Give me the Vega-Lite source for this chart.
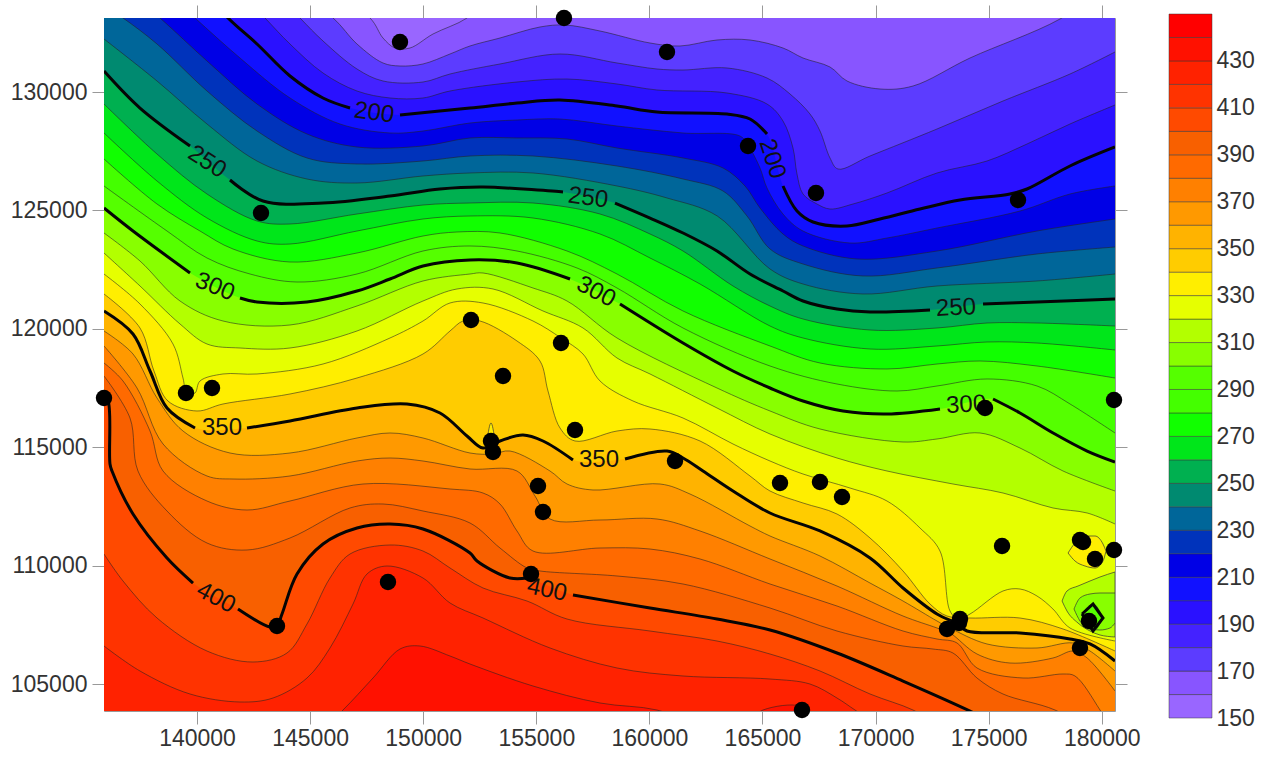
{"$schema":"https://vega.github.io/schema/vega-lite/v6.json","background":"white","padding":{"left":10,"top":4,"right":0,"bottom":0},"spacing":27,"config":{"view":{"stroke":null},"font":"Liberation Sans"},
"datasets":{
"contours":[
{"level":150,"x":135888,"y":133125},{"level":150,"x":180584,"y":133125},
{"level":160,"x":135888,"y":135110},{"level":160,"x":144553,"y":135110},{"level":160,"x":147648,"y":133125},{"level":160,"x":148222,"y":132280},{"level":160,"x":148753,"y":131858},{"level":160,"x":149416,"y":131858},{"level":160,"x":150433,"y":132449},{"level":160,"x":151935,"y":133125},{"level":160,"x":152953,"y":134054},{"level":160,"x":180584,"y":135110},
{"level":170,"x":135888,"y":136377},{"level":170,"x":143669,"y":134688},{"level":170,"x":146012,"y":133125},{"level":170,"x":147073,"y":132027},{"level":170,"x":148222,"y":131225},{"level":170,"x":148974,"y":131098},{"level":170,"x":149991,"y":131183},{"level":170,"x":151185,"y":131605},{"level":170,"x":152069,"y":131943},{"level":170,"x":153395,"y":132280},{"level":170,"x":155163,"y":132745},{"level":170,"x":156269,"y":132829},{"level":170,"x":157816,"y":132576},{"level":170,"x":160027,"y":132069},{"level":170,"x":161353,"y":131943},{"level":170,"x":162989,"y":132196},{"level":170,"x":164448,"y":132196},{"level":170,"x":165906,"y":131858},{"level":170,"x":166790,"y":131436},{"level":170,"x":167984,"y":131056},{"level":170,"x":168736,"y":130465},{"level":170,"x":170195,"y":130127},{"level":170,"x":171654,"y":130253},{"level":170,"x":174174,"y":131436},{"level":170,"x":178153,"y":133083},{"level":170,"x":180584,"y":134688},
{"level":180,"x":135888,"y":136377},{"level":180,"x":142784,"y":134899},{"level":180,"x":144553,"y":133125},{"level":180,"x":145570,"y":132154},{"level":180,"x":147073,"y":130971},{"level":180,"x":148222,"y":130465},{"level":180,"x":149991,"y":130422},{"level":180,"x":151185,"y":130760},{"level":180,"x":153395,"y":131183},{"level":180,"x":156048,"y":131605},{"level":180,"x":158568,"y":131225},{"level":180,"x":160336,"y":130971},{"level":180,"x":161486,"y":130929},{"level":180,"x":163431,"y":131014},{"level":180,"x":165199,"y":130591},{"level":180,"x":166216,"y":129916},{"level":180,"x":167100,"y":129071},{"level":180,"x":167542,"y":128353},{"level":180,"x":167984,"y":127213},{"level":180,"x":168338,"y":126748},{"level":180,"x":169753,"y":127297},{"level":180,"x":172715,"y":128437},{"level":180,"x":175633,"y":129620},{"level":180,"x":178595,"y":130760},{"level":180,"x":180584,"y":131689},
{"level":190,"x":135888,"y":136799},{"level":190,"x":141237,"y":134899},{"level":190,"x":143006,"y":133125},{"level":190,"x":144111,"y":132027},{"level":190,"x":145570,"y":130802},{"level":190,"x":147073,"y":130042},{"level":190,"x":148532,"y":129747},{"level":190,"x":149991,"y":129747},{"level":190,"x":151185,"y":130042},{"level":190,"x":154147,"y":130422},{"level":190,"x":156358,"y":130549},{"level":190,"x":158568,"y":130338},{"level":190,"x":160336,"y":130085},{"level":190,"x":163431,"y":129958},{"level":190,"x":165199,"y":129493},{"level":190,"x":165906,"y":128775},{"level":190,"x":166348,"y":127635},{"level":190,"x":166525,"y":126537},{"level":190,"x":166790,"y":125693},{"level":190,"x":167409,"y":125270},{"level":190,"x":167984,"y":125059},{"level":190,"x":169001,"y":125270},{"level":190,"x":170504,"y":125735},{"level":190,"x":172715,"y":126580},{"level":190,"x":174925,"y":127086},{"level":190,"x":176694,"y":127804},{"level":190,"x":178595,"y":128649},{"level":190,"x":180584,"y":129451},
{"level":200,"seg":1,"x":135888,"y":137221},{"level":200,"seg":1,"x":139690,"y":134899},{"level":200,"seg":1,"x":141370,"y":133125},{"level":200,"seg":1,"x":142652,"y":132027},{"level":200,"seg":1,"x":144111,"y":130676},{"level":200,"seg":1,"x":145570,"y":129747},{"level":200,"seg":1,"x":146764,"y":129324},{"level":200,"seg":2,"x":148974,"y":129029},{"level":200,"seg":2,"x":152069,"y":129324},{"level":200,"seg":2,"x":154147,"y":129535},{"level":200,"seg":2,"x":156048,"y":129662},{"level":200,"seg":2,"x":158568,"y":129409},{"level":200,"seg":2,"x":160336,"y":129156},{"level":200,"seg":2,"x":163431,"y":129071},{"level":200,"seg":2,"x":164448,"y":128860},{"level":200,"seg":2,"x":165199,"y":128226},{"level":200,"seg":3,"x":165906,"y":126031},{"level":200,"seg":3,"x":166525,"y":124975},{"level":200,"seg":3,"x":167232,"y":124511},{"level":200,"seg":3,"x":168736,"y":124342},{"level":200,"seg":3,"x":170195,"y":124637},{"level":200,"seg":3,"x":171963,"y":125059},{"level":200,"seg":3,"x":173732,"y":125439},{"level":200,"seg":3,"x":175942,"y":125693},{"level":200,"seg":3,"x":176694,"y":125904},{"level":200,"seg":3,"x":178595,"y":126875},{"level":200,"seg":3,"x":180584,"y":127677},
{"level":210,"x":135888,"y":136799},{"level":210,"x":138364,"y":134476},{"level":210,"x":139911,"y":133125},{"level":210,"x":141900,"y":131436},{"level":210,"x":144111,"y":129747},{"level":210,"x":146321,"y":128649},{"level":210,"x":148532,"y":128269},{"level":210,"x":149991,"y":128353},{"level":210,"x":152069,"y":128691},{"level":210,"x":154147,"y":128818},{"level":210,"x":156048,"y":128860},{"level":210,"x":158568,"y":128564},{"level":210,"x":161486,"y":128269},{"level":210,"x":164005,"y":128142},{"level":210,"x":164359,"y":127762},{"level":210,"x":164890,"y":126791},{"level":210,"x":165199,"y":125946},{"level":210,"x":165906,"y":124848},{"level":210,"x":166790,"y":124130},{"level":210,"x":168869,"y":123623},{"level":210,"x":170504,"y":123835},{"level":210,"x":172715,"y":124257},{"level":210,"x":176384,"y":124975},{"level":210,"x":178595,"y":125693},{"level":210,"x":180584,"y":126031},
{"level":220,"x":135888,"y":135110},{"level":220,"x":138364,"y":133125},{"level":220,"x":140441,"y":131309},{"level":220,"x":142652,"y":129493},{"level":220,"x":144863,"y":128226},{"level":220,"x":147073,"y":127677},{"level":220,"x":149991,"y":127720},{"level":220,"x":152069,"y":128058},{"level":220,"x":154147,"y":128058},{"level":220,"x":156358,"y":128015},{"level":220,"x":158568,"y":127635},{"level":220,"x":161486,"y":127213},{"level":220,"x":163254,"y":126791},{"level":220,"x":164226,"y":126031},{"level":220,"x":164890,"y":125101},{"level":220,"x":165906,"y":124004},{"level":220,"x":166790,"y":123497},{"level":220,"x":169178,"y":122948},{"level":220,"x":172715,"y":123285},{"level":220,"x":177136,"y":124130},{"level":220,"x":180584,"y":124637},
{"level":230,"x":135888,"y":133632},{"level":230,"x":136728,"y":133125},{"level":230,"x":138231,"y":132027},{"level":230,"x":140441,"y":130042},{"level":230,"x":142652,"y":128353},{"level":230,"x":144863,"y":127213},{"level":230,"x":147073,"y":126960},{"level":230,"x":149991,"y":127086},{"level":230,"x":152069,"y":127297},{"level":230,"x":154854,"y":127297},{"level":230,"x":158568,"y":126875},{"level":230,"x":161486,"y":126326},{"level":230,"x":163254,"y":125819},{"level":230,"x":164315,"y":124764},{"level":230,"x":165332,"y":123370},{"level":230,"x":166790,"y":122737},{"level":230,"x":169443,"y":122230},{"level":230,"x":172715,"y":122568},{"level":230,"x":177136,"y":123159},{"level":230,"x":180584,"y":123454},
{"level":240,"x":135888,"y":132238},{"level":240,"x":138231,"y":130465},{"level":240,"x":140441,"y":128649},{"level":240,"x":142652,"y":127086},{"level":240,"x":144863,"y":126326},{"level":240,"x":147073,"y":126157},{"level":240,"x":149991,"y":126453},{"level":240,"x":152069,"y":126580},{"level":240,"x":154854,"y":126580},{"level":240,"x":158568,"y":126031},{"level":240,"x":160779,"y":125524},{"level":240,"x":163000,"y":124764},{"level":240,"x":165332,"y":122526},{"level":240,"x":166790,"y":121892},{"level":240,"x":169443,"y":121470},{"level":240,"x":172715,"y":121808},{"level":240,"x":177136,"y":122019},{"level":240,"x":180584,"y":122314},
{"level":250,"seg":1,"x":135888,"y":130887},{"level":250,"seg":1,"x":137479,"y":129324},{"level":250,"seg":1,"x":139690,"y":127720},{"level":250,"seg":2,"x":141458,"y":126284},{"level":250,"seg":2,"x":142917,"y":125397},{"level":250,"seg":2,"x":145570,"y":125312},{"level":250,"seg":2,"x":148532,"y":125608},{"level":250,"seg":2,"x":150742,"y":125904},{"level":250,"seg":2,"x":152643,"y":125988},{"level":250,"seg":2,"x":156180,"y":125777},{"level":250,"seg":3,"x":158479,"y":125312},{"level":250,"seg":3,"x":160027,"y":124679},{"level":250,"seg":3,"x":161486,"y":124046},{"level":250,"seg":3,"x":162989,"y":123285},{"level":250,"seg":3,"x":164448,"y":122314},{"level":250,"seg":3,"x":165906,"y":121596},{"level":250,"seg":3,"x":166790,"y":121174},{"level":250,"seg":3,"x":168293,"y":120836},{"level":250,"seg":3,"x":169753,"y":120710},{"level":250,"seg":3,"x":172406,"y":120794},{"level":250,"seg":4,"x":174749,"y":121047},{"level":250,"seg":4,"x":177136,"y":121132},{"level":250,"seg":4,"x":180584,"y":121258},
{"level":260,"x":135888,"y":129493},{"level":260,"x":138231,"y":127382},{"level":260,"x":140441,"y":125693},{"level":260,"x":142652,"y":124553},{"level":260,"x":144111,"y":124426},{"level":260,"x":147073,"y":124848},{"level":260,"x":149991,"y":125228},{"level":260,"x":152069,"y":125312},{"level":260,"x":154854,"y":125312},{"level":260,"x":157816,"y":124848},{"level":260,"x":160027,"y":124004},{"level":260,"x":161486,"y":123285},{"level":260,"x":163696,"y":121808},{"level":260,"x":165332,"y":120963},{"level":260,"x":166790,"y":120414},{"level":260,"x":169753,"y":119949},{"level":260,"x":172715,"y":120034},{"level":260,"x":174925,"y":120245},{"level":260,"x":177136,"y":120245},{"level":260,"x":180584,"y":120118},
{"level":270,"x":135888,"y":128269},{"level":270,"x":138231,"y":126242},{"level":270,"x":140441,"y":124679},{"level":270,"x":142652,"y":123708},{"level":270,"x":144111,"y":123581},{"level":270,"x":147073,"y":124130},{"level":270,"x":149991,"y":124637},{"level":270,"x":152069,"y":124764},{"level":270,"x":154854,"y":124679},{"level":270,"x":157816,"y":124004},{"level":270,"x":160027,"y":122990},{"level":270,"x":162237,"y":121892},{"level":270,"x":165332,"y":120118},{"level":270,"x":166790,"y":119612},{"level":270,"x":169753,"y":119147},{"level":270,"x":172715,"y":119274},{"level":270,"x":174925,"y":119443},{"level":270,"x":177136,"y":119400},{"level":270,"x":180584,"y":119105},
{"level":280,"x":135888,"y":127171},{"level":280,"x":138231,"y":125270},{"level":280,"x":140132,"y":124130},{"level":280,"x":141591,"y":123370},{"level":280,"x":144111,"y":122821},{"level":280,"x":147073,"y":123201},{"level":280,"x":149991,"y":123919},{"level":280,"x":151494,"y":124088},{"level":280,"x":153395,"y":124046},{"level":280,"x":156358,"y":123285},{"level":280,"x":158568,"y":122314},{"level":280,"x":161486,"y":120752},{"level":280,"x":165332,"y":119274},{"level":280,"x":167542,"y":118556},{"level":280,"x":170504,"y":118303},{"level":280,"x":172715,"y":118513},{"level":280,"x":174616,"y":118640},{"level":280,"x":177136,"y":118429},{"level":280,"x":180584,"y":117922},
{"level":290,"x":135888,"y":126031},{"level":290,"x":138673,"y":124130},{"level":290,"x":140441,"y":122990},{"level":290,"x":142343,"y":122314},{"level":290,"x":144421,"y":121976},{"level":290,"x":147073,"y":122314},{"level":290,"x":149991,"y":123285},{"level":290,"x":152069,"y":123497},{"level":290,"x":154147,"y":123285},{"level":290,"x":156799,"y":122568},{"level":290,"x":158568,"y":121723},{"level":290,"x":161486,"y":120034},{"level":290,"x":165332,"y":118429},{"level":290,"x":168293,"y":117669},{"level":290,"x":170947,"y":117373},{"level":290,"x":172715,"y":117585},{"level":290,"x":174925,"y":117881},{"level":290,"x":177136,"y":117585},{"level":290,"x":178595,"y":116825},{"level":290,"x":180584,"y":115600},
{"level":300,"seg":1,"x":135888,"y":125101},{"level":300,"seg":1,"x":137170,"y":124130},{"level":300,"seg":1,"x":139690,"y":122357},{"level":300,"seg":2,"x":141900,"y":121301},{"level":300,"seg":2,"x":142652,"y":121132},{"level":300,"seg":2,"x":144863,"y":121132},{"level":300,"seg":2,"x":147073,"y":121596},{"level":300,"seg":2,"x":148532,"y":122103},{"level":300,"seg":2,"x":149991,"y":122652},{"level":300,"seg":2,"x":152069,"y":122905},{"level":300,"seg":2,"x":154147,"y":122779},{"level":300,"seg":2,"x":156490,"y":122103},{"level":300,"seg":3,"x":158700,"y":121047},{"level":300,"seg":3,"x":161486,"y":119400},{"level":300,"seg":3,"x":163696,"y":118218},{"level":300,"seg":3,"x":165332,"y":117500},{"level":300,"seg":3,"x":166790,"y":116951},{"level":300,"seg":3,"x":168559,"y":116529},{"level":300,"seg":3,"x":170504,"y":116402},{"level":300,"seg":3,"x":172847,"y":116614},{"level":300,"seg":4,"x":175191,"y":117036},{"level":300,"seg":4,"x":176384,"y":116445},{"level":300,"seg":4,"x":177849,"y":115600},{"level":300,"seg":4,"x":179352,"y":114839},{"level":300,"seg":4,"x":180584,"y":114375},
{"level":310,"x":135888,"y":124046},{"level":310,"x":137479,"y":122863},{"level":310,"x":139248,"y":121174},{"level":310,"x":141149,"y":120329},{"level":310,"x":144111,"y":120161},{"level":310,"x":147073,"y":120963},{"level":310,"x":149991,"y":122019},{"level":310,"x":152069,"y":122314},{"level":310,"x":152643,"y":122357},{"level":310,"x":154854,"y":121723},{"level":310,"x":156358,"y":121174},{"level":310,"x":158568,"y":119612},{"level":310,"x":162989,"y":117500},{"level":310,"x":165332,"y":116529},{"level":310,"x":167542,"y":115769},{"level":310,"x":171212,"y":115220},{"level":310,"x":172715,"y":115347},{"level":310,"x":174616,"y":115600},{"level":310,"x":176384,"y":114966},{"level":310,"x":178286,"y":113995},{"level":310,"x":180584,"y":113150},
{"level":320,"x":135888,"y":123201},{"level":320,"x":137479,"y":121808},{"level":320,"x":139248,"y":120203},{"level":320,"x":140441,"y":119358},{"level":320,"x":141900,"y":119189},{"level":320,"x":144111,"y":119189},{"level":320,"x":147073,"y":119907},{"level":320,"x":149991,"y":121174},{"level":320,"x":151494,"y":121681},{"level":320,"x":153085,"y":121681},{"level":320,"x":155296,"y":120752},{"level":320,"x":157064,"y":120034},{"level":320,"x":158568,"y":118767},{"level":320,"x":160027,"y":118092},{"level":320,"x":162989,"y":116656},{"level":320,"x":165332,"y":115558},{"level":320,"x":168293,"y":114544},{"level":320,"x":170504,"y":113995},{"level":320,"x":173422,"y":113446},{"level":320,"x":175633,"y":113066},{"level":320,"x":177841,"y":112433},{"level":320,"x":179352,"y":112222},{"level":320,"x":180584,"y":111757},
{"level":330,"x":135888,"y":122314},{"level":330,"x":137479,"y":121047},{"level":330,"x":138938,"y":119358},{"level":330,"x":139380,"y":117922},{"level":330,"x":139557,"y":117247},{"level":330,"x":139911,"y":117289},{"level":330,"x":140132,"y":117796},{"level":330,"x":141149,"y":118092},{"level":330,"x":142652,"y":118092},{"level":330,"x":145570,"y":118513},{"level":330,"x":148532,"y":119612},{"level":330,"x":149991,"y":120329},{"level":330,"x":151185,"y":121090},{"level":330,"x":152643,"y":121090},{"level":330,"x":154854,"y":120329},{"level":330,"x":156092,"y":119612},{"level":330,"x":157064,"y":118936},{"level":330,"x":157816,"y":117796},{"level":330,"x":159275,"y":116951},{"level":330,"x":161486,"y":116233},{"level":330,"x":163696,"y":115135},{"level":330,"x":165332,"y":114417},{"level":330,"x":166790,"y":113868},{"level":330,"x":168869,"y":113277},{"level":330,"x":170504,"y":112728},{"level":330,"x":171963,"y":111588},{"level":330,"x":172847,"y":110616},{"level":330,"x":173290,"y":108083},{"level":330,"x":173643,"y":107745},{"level":330,"x":174174,"y":107956},{"level":330,"x":175633,"y":108928},{"level":330,"x":176384,"y":109012},{"level":330,"x":177136,"y":108716},{"level":330,"x":177841,"y":108167},{"level":330,"x":178595,"y":107365},{"level":330,"x":180584,"y":106816},
{"level":340,"x":135888,"y":121470},{"level":340,"x":137479,"y":120034},{"level":340,"x":138098,"y":118218},{"level":340,"x":138715,"y":116951},{"level":340,"x":139999,"y":116529},{"level":340,"x":141149,"y":116825},{"level":340,"x":144111,"y":117247},{"level":340,"x":147073,"y":117922},{"level":340,"x":149991,"y":118936},{"level":340,"x":151185,"y":119907},{"level":340,"x":151759,"y":120329},{"level":340,"x":152511,"y":120329},{"level":340,"x":154147,"y":119485},{"level":340,"x":155163,"y":118640},{"level":340,"x":155517,"y":117373},{"level":340,"x":156048,"y":115811},{"level":340,"x":156711,"y":115262},{"level":340,"x":158568,"y":115684},{"level":340,"x":160027,"y":115769},{"level":340,"x":162237,"y":115262},{"level":340,"x":164448,"y":113784},{"level":340,"x":165332,"y":113150},{"level":340,"x":166790,"y":112644},{"level":340,"x":168293,"y":112179},{"level":340,"x":169753,"y":111166},{"level":340,"x":171212,"y":109773},{"level":340,"x":172406,"y":108378},{"level":340,"x":173157,"y":107871},{"level":340,"x":174174,"y":107787},{"level":340,"x":176384,"y":107787},{"level":340,"x":178286,"y":107323},{"level":340,"x":180584,"y":106394},
{"level":350,"seg":1,"x":135888,"y":120752},{"level":350,"seg":1,"x":137170,"y":119780},{"level":350,"seg":1,"x":137922,"y":118218},{"level":350,"seg":1,"x":138673,"y":116656},{"level":350,"seg":1,"x":139911,"y":115811},{"level":350,"seg":2,"x":142210,"y":115811},{"level":350,"seg":2,"x":144111,"y":116107},{"level":350,"seg":2,"x":147073,"y":116656},{"level":350,"seg":2,"x":149283,"y":116825},{"level":350,"seg":2,"x":150742,"y":116445},{"level":350,"seg":2,"x":151936,"y":115474},{"level":350,"seg":2,"x":152643,"y":114966},{"level":350,"seg":2,"x":153395,"y":115262},{"level":350,"seg":2,"x":154412,"y":115516},{"level":350,"seg":2,"x":155296,"y":115262},{"level":350,"seg":2,"x":156622,"y":114459},{"level":350,"seg":3,"x":158921,"y":114502},{"level":350,"seg":3,"x":160779,"y":114839},{"level":350,"seg":3,"x":161486,"y":114544},{"level":350,"seg":3,"x":162370,"y":113995},{"level":350,"seg":3,"x":163696,"y":113150},{"level":350,"seg":3,"x":165332,"y":112222},{"level":350,"seg":3,"x":167542,"y":111462},{"level":350,"seg":3,"x":169753,"y":110322},{"level":350,"seg":3,"x":171212,"y":109055},{"level":350,"seg":3,"x":172715,"y":107957},{"level":350,"seg":3,"x":173643,"y":107535},{"level":350,"seg":3,"x":174041,"y":107239},{"level":350,"seg":3,"x":176384,"y":107154},{"level":350,"seg":3,"x":178595,"y":106901},{"level":350,"seg":3,"x":179479,"y":106690},{"level":350,"seg":3,"x":180584,"y":105972},
{"level":360,"x":135888,"y":119907},{"level":360,"x":137170,"y":118936},{"level":360,"x":138231,"y":117078},{"level":360,"x":139380,"y":115684},{"level":360,"x":141458,"y":114755},{"level":360,"x":144111,"y":114755},{"level":360,"x":147073,"y":115389},{"level":360,"x":148532,"y":115600},{"level":360,"x":149991,"y":115389},{"level":360,"x":152069,"y":114755},{"level":360,"x":153085,"y":114713},{"level":360,"x":153837,"y":114839},{"level":360,"x":155606,"y":113995},{"level":360,"x":156358,"y":113446},{"level":360,"x":157507,"y":113193},{"level":360,"x":160469,"y":113446},{"level":360,"x":161795,"y":113023},{"level":360,"x":164448,"y":111673},{"level":360,"x":165332,"y":111250},{"level":360,"x":167542,"y":110406},{"level":360,"x":169753,"y":109265},{"level":360,"x":171212,"y":108505},{"level":360,"x":172715,"y":107660},{"level":360,"x":173290,"y":107365},{"level":360,"x":174925,"y":106690},{"level":360,"x":177136,"y":106521},{"level":360,"x":178728,"y":106732},{"level":360,"x":179479,"y":106393},{"level":360,"x":180584,"y":105549},
{"level":370,"x":135888,"y":119274},{"level":370,"x":137347,"y":117500},{"level":370,"x":138498,"y":115135},{"level":370,"x":140441,"y":113784},{"level":370,"x":141591,"y":113657},{"level":370,"x":144111,"y":113784},{"level":370,"x":147073,"y":114417},{"level":370,"x":148532,"y":114544},{"level":370,"x":149991,"y":114417},{"level":370,"x":152069,"y":114080},{"level":370,"x":154147,"y":113995},{"level":370,"x":154942,"y":112939},{"level":370,"x":155606,"y":111968},{"level":370,"x":157816,"y":111926},{"level":370,"x":160336,"y":111968},{"level":370,"x":162237,"y":111462},{"level":370,"x":165332,"y":110279},{"level":370,"x":168293,"y":109138},{"level":370,"x":171212,"y":107871},{"level":370,"x":172715,"y":107365},{"level":370,"x":173290,"y":107154},{"level":370,"x":174483,"y":106266},{"level":370,"x":175942,"y":105886},{"level":370,"x":177841,"y":106098},{"level":370,"x":178728,"y":106393},{"level":370,"x":179352,"y":106098},{"level":370,"x":180584,"y":104704},
{"level":380,"x":135888,"y":118556},{"level":380,"x":136728,"y":117796},{"level":380,"x":137922,"y":115684},{"level":380,"x":138498,"y":113995},{"level":380,"x":140441,"y":112728},{"level":380,"x":142210,"y":112348},{"level":380,"x":144111,"y":112728},{"level":380,"x":147339,"y":113446},{"level":380,"x":151185,"y":113235},{"level":380,"x":152643,"y":113066},{"level":380,"x":153395,"y":112601},{"level":380,"x":154147,"y":111461},{"level":380,"x":154854,"y":110616},{"level":380,"x":157816,"y":110743},{"level":380,"x":160027,"y":110700},{"level":380,"x":162237,"y":110279},{"level":380,"x":165332,"y":109223},{"level":380,"x":168293,"y":108294},{"level":380,"x":171212,"y":107238},{"level":380,"x":172715,"y":106901},{"level":380,"x":173599,"y":106732},{"level":380,"x":174483,"y":105676},{"level":380,"x":176518,"y":105253},{"level":380,"x":178286,"y":105422},{"level":380,"x":178816,"y":105338},{"level":380,"x":179921,"y":103902},{"level":380,"x":180584,"y":102804},
{"level":390,"x":135888,"y":118007},{"level":390,"x":137037,"y":116233},{"level":390,"x":137391,"y":113995},{"level":390,"x":138673,"y":112306},{"level":390,"x":140441,"y":110954},{"level":390,"x":142210,"y":110659},{"level":390,"x":144111,"y":111166},{"level":390,"x":146764,"y":112433},{"level":390,"x":148222,"y":112601},{"level":390,"x":149991,"y":112306},{"level":390,"x":152069,"y":111799},{"level":390,"x":153395,"y":110743},{"level":390,"x":154589,"y":109899},{"level":390,"x":155163,"y":109773},{"level":390,"x":158568,"y":109561},{"level":390,"x":161486,"y":109223},{"level":390,"x":165332,"y":108209},{"level":390,"x":168293,"y":107238},{"level":390,"x":171212,"y":106604},{"level":390,"x":172538,"y":106477},{"level":390,"x":173422,"y":106308},{"level":390,"x":174483,"y":105253},{"level":390,"x":175633,"y":104577},{"level":390,"x":177932,"y":103902},{"level":390,"x":179921,"y":102804},{"level":390,"x":180584,"y":102382},
{"level":400,"seg":1,"x":135888,"y":117078},{"level":400,"seg":1,"x":136065,"y":116951},{"level":400,"seg":1,"x":136153,"y":114291},{"level":400,"seg":1,"x":136242,"y":113995},{"level":400,"seg":1,"x":137170,"y":112179},{"level":400,"seg":1,"x":138673,"y":110321},{"level":400,"seg":1,"x":139823,"y":109265},{"level":400,"seg":2,"x":141812,"y":108167},{"level":400,"seg":2,"x":143227,"y":107406},{"level":400,"seg":2,"x":143536,"y":107449},{"level":400,"seg":2,"x":143757,"y":107956},{"level":400,"seg":2,"x":144421,"y":109645},{"level":400,"seg":2,"x":145570,"y":110912},{"level":400,"seg":2,"x":147073,"y":111588},{"level":400,"seg":2,"x":148532,"y":111757},{"level":400,"seg":2,"x":149991,"y":111546},{"level":400,"seg":2,"x":152069,"y":110532},{"level":400,"seg":2,"x":152378,"y":110194},{"level":400,"seg":2,"x":153837,"y":109476},{"level":400,"seg":2,"x":154589,"y":109476},{"level":400,"seg":3,"x":156622,"y":108758},{"level":400,"seg":3,"x":160027,"y":108209},{"level":400,"seg":3,"x":162989,"y":107744},{"level":400,"seg":3,"x":165332,"y":107280},{"level":400,"seg":3,"x":168293,"y":106309},{"level":400,"seg":3,"x":171212,"y":105126},{"level":400,"seg":3,"x":174174,"y":103860},{"level":400,"seg":3,"x":175500,"y":103227},{"level":400,"seg":3,"x":180584,"y":101749},
{"level":410,"x":135888,"y":110490},{"level":410,"x":136728,"y":109350},{"level":410,"x":138231,"y":107788},{"level":410,"x":140441,"y":106393},{"level":410,"x":142476,"y":105929},{"level":410,"x":143978,"y":106309},{"level":410,"x":144863,"y":107534},{"level":410,"x":145879,"y":109476},{"level":410,"x":146764,"y":110490},{"level":410,"x":148532,"y":110870},{"level":410,"x":149991,"y":110616},{"level":410,"x":151185,"y":109899},{"level":410,"x":152643,"y":109055},{"level":410,"x":154589,"y":108505},{"level":410,"x":156358,"y":107744},{"level":410,"x":160027,"y":107238},{"level":410,"x":162989,"y":106816},{"level":410,"x":165332,"y":106267},{"level":410,"x":167542,"y":105549},{"level":410,"x":169753,"y":104578},{"level":410,"x":171654,"y":103902},{"level":410,"x":172847,"y":103227},{"level":410,"x":180584,"y":101326},
{"level":420,"x":135888,"y":106605},{"level":420,"x":137479,"y":105549},{"level":420,"x":139690,"y":104578},{"level":420,"x":141900,"y":104240},{"level":420,"x":143359,"y":104409},{"level":420,"x":144863,"y":105253},{"level":420,"x":145879,"y":106521},{"level":420,"x":146897,"y":108378},{"level":420,"x":147515,"y":109645},{"level":420,"x":148399,"y":109983},{"level":420,"x":149991,"y":109476},{"level":420,"x":151185,"y":108421},{"level":420,"x":152643,"y":107788},{"level":420,"x":155606,"y":106521},{"level":420,"x":158568,"y":105676},{"level":420,"x":161486,"y":105338},{"level":420,"x":165332,"y":105211},{"level":420,"x":167100,"y":104999},{"level":420,"x":168293,"y":104409},{"level":420,"x":169090,"y":103902},{"level":420,"x":170195,"y":103227},{"level":420,"x":180584,"y":101326},
{"level":430,"x":135888,"y":101749},{"level":430,"x":145437,"y":103014},{"level":430,"x":146454,"y":103902},{"level":430,"x":147781,"y":105253},{"level":430,"x":148974,"y":106477},{"level":430,"x":149858,"y":106605},{"level":430,"x":151185,"y":106182},{"level":430,"x":152069,"y":105844},{"level":430,"x":154854,"y":104915},{"level":430,"x":157816,"y":104198},{"level":430,"x":160336,"y":103902},{"level":430,"x":162237,"y":103227},{"level":430,"x":164005,"y":103227},{"level":430,"x":165022,"y":103902},{"level":430,"x":166658,"y":104071},{"level":430,"x":167189,"y":103648},{"level":430,"x":168869,"y":101749},{"level":430,"x":180584,"y":101326}
],
"lobes":[
{"level":310,"id":"a","x":178243,"top":108505,"bot":108505},{"level":310,"id":"a","x":178461,"top":108928,"bot":108083},{"level":310,"id":"a","x":178948,"top":109138,"bot":107575},{"level":310,"id":"a","x":179479,"top":109350,"bot":107238},{"level":310,"id":"a","x":179921,"top":109519,"bot":107069},{"level":310,"id":"a","x":180584,"top":109730,"bot":106985},
{"level":300,"id":"b","x":178771,"top":108167,"bot":108167},{"level":300,"id":"b","x":179035,"top":108632,"bot":107660},{"level":300,"id":"b","x":179479,"top":108801,"bot":107323},{"level":300,"id":"b","x":179921,"top":108843,"bot":107280},{"level":300,"id":"b","x":180363,"top":108843,"bot":107365},{"level":300,"id":"b","x":180584,"top":108843,"bot":107575},
{"level":290,"id":"c","x":179127,"top":107956,"bot":107956},{"level":290,"id":"c","x":179613,"top":108378,"bot":107238},{"level":290,"id":"c","x":180053,"top":107787,"bot":107787},
{"level":330,"id":"d","x":178508,"top":110532,"bot":110532},{"level":330,"id":"d","x":178816,"top":110954,"bot":110194},{"level":330,"id":"d","x":179258,"top":111250,"bot":109983},{"level":330,"id":"d","x":179700,"top":111250,"bot":109899},{"level":330,"id":"d","x":180053,"top":110912,"bot":110194},{"level":330,"id":"d","x":180186,"top":110616,"bot":110616},
{"level":330,"id":"e","x":152820,"top":115262,"bot":115262},{"level":330,"id":"e","x":152997,"top":116022,"bot":115262},{"level":330,"id":"e","x":153174,"top":115262,"bot":115262}
],
"diamond":[{"step":1,"x":179127,"y":107956},{"step":2,"x":179613,"y":108378},{"step":3,"x":180053,"y":107787},{"step":4,"x":179613,"y":107238},{"step":5,"x":179127,"y":107956}],
"labels":[
{"text":"200","x":147825,"y":129113,"rot":8},{"text":"200","x":165420,"y":127171,"rot":72},{"text":"250","x":140441,"y":127044,"rot":33},{"text":"250","x":157285,"y":125524,"rot":8},{"text":"250","x":173554,"y":120879,"rot":-3},{"text":"300","x":140795,"y":121765,"rot":22},{"text":"300","x":157640,"y":121554,"rot":28},{"text":"300","x":174002,"y":116783,"rot":-3},{"text":"350","x":141105,"y":115811,"rot":0},{"text":"350","x":157772,"y":114459,"rot":0},{"text":"400","x":140839,"y":108632,"rot":28},{"text":"400","x":155473,"y":108969,"rot":12}
],
"wells":[
{"x":148974,"y":132112},{"x":156224,"y":133125},{"x":160778,"y":131689},{"x":164359,"y":127720},{"x":167365,"y":125735},{"x":176296,"y":125439},{"x":142829,"y":124890},{"x":152113,"y":120372},{"x":156092,"y":119400},{"x":153528,"y":118007},{"x":139513,"y":117289},{"x":140663,"y":117500},{"x":135888,"y":117078},{"x":180540,"y":116993},{"x":174837,"y":116655},{"x":156711,"y":115727},{"x":152997,"y":115262},{"x":153085,"y":114797},{"x":161132,"y":114417},{"x":165774,"y":113488},{"x":167542,"y":113530},{"x":168515,"y":112897},{"x":155075,"y":113361},{"x":155296,"y":112263},{"x":175590,"y":110828},{"x":179037,"y":111082},{"x":179170,"y":110997},{"x":179700,"y":110279},{"x":180540,"y":110659},{"x":154766,"y":109645},{"x":148443,"y":109307},{"x":143536,"y":107449},{"x":179435,"y":107660},{"x":173157,"y":107323},{"x":173688,"y":107576},{"x":173732,"y":107745},{"x":179035,"y":106521},{"x":166746,"y":103902}
],
"bands":[{"level":150,"hi":160},{"level":160,"hi":170},{"level":170,"hi":180},{"level":180,"hi":190},{"level":190,"hi":200},{"level":200,"hi":210},{"level":210,"hi":220},{"level":220,"hi":230},{"level":230,"hi":240},{"level":240,"hi":250},{"level":250,"hi":260},{"level":260,"hi":270},{"level":270,"hi":280},{"level":280,"hi":290},{"level":290,"hi":300},{"level":300,"hi":310},{"level":310,"hi":320},{"level":320,"hi":330},{"level":330,"hi":340},{"level":340,"hi":350},{"level":350,"hi":360},{"level":360,"hi":370},{"level":370,"hi":380},{"level":380,"hi":390},{"level":390,"hi":400},{"level":400,"hi":410},{"level":410,"hi":420},{"level":420,"hi":430},{"level":430,"hi":440},{"level":440,"hi":450}]
},
"hconcat":[
{"width":1011,"height":693,
"resolve":{"axis":{"x":"independent","y":"independent"}},
"layer":[
{"data":{"name":"contours"},"mark":{"type":"area","interpolate":"catmull-rom","clip":true},
"encoding":{
"x":{"field":"x","type":"quantitative","title":null,"scale":{"domain":[135888,180584],"nice":false,"zero":false},"axis":{"orient":"bottom","values":[140000,145000,150000,155000,160000,165000,170000,175000,180000],"format":"d","tickSize":13,"tickColor":"#999","domainColor":"#999","labelFontSize":23,"labelColor":"#333","labelPadding":3,"labelFlush":false,"grid":false}},
"y":{"field":"y","type":"quantitative","title":null,"scale":{"domain":[103860,133125],"nice":false,"zero":false},"axis":{"orient":"left","values":[105000,110000,115000,120000,125000,130000],"format":"d","tickSize":12,"tickColor":"#999","domainColor":"#999","labelFontSize":23,"labelColor":"#333","labelPadding":5,"labelFlush":false,"grid":false}},
"y2":{"datum":103860},
"color":{"field":"level","type":"ordinal","legend":null,"scale":{"domain":[150,160,170,180,190,200,210,220,230,240,250,260,270,280,290,300,310,320,330,340,350,360,370,380,390,400,410,420,430,440],"range":["#9966ff","#8855ff","#5c3cff","#4422ff","#2a11ff","#1111ff","#0000e6","#0033bb","#006699","#008a70","#00b050","#00e61a","#11ff00","#44ff00","#55ff00","#88ff00","#b3ff00","#e6ff00","#ffee00","#ffcc00","#ffb300","#ff9900","#ff8000","#ff6a00","#f86000","#ff4a00","#ff3300","#ff2200","#ff1100","#ff0000"]}}
}},
{"data":{"name":"contours"},"transform":[{"filter":"datum.level % 50 != 0"}],"mark":{"type":"line","interpolate":"catmull-rom","clip":true,"stroke":"#222","strokeWidth":0.7,"strokeOpacity":0.8},
"encoding":{"x":{"field":"x","type":"quantitative","axis":null},"y":{"field":"y","type":"quantitative","axis":null},"detail":{"field":"level"}}},
{"data":{"name":"contours"},"transform":[{"filter":"datum.level % 50 == 0 && datum.level > 150"}],"mark":{"type":"line","interpolate":"catmull-rom","clip":true,"stroke":"#050505","strokeWidth":3},
"encoding":{"x":{"field":"x","type":"quantitative","axis":null},"y":{"field":"y","type":"quantitative","axis":null},"detail":[{"field":"level"},{"field":"seg"}]}},
{"data":{"name":"lobes"},"mark":{"type":"area","interpolate":"monotone","clip":true,"stroke":"#333","strokeWidth":0.7},
"encoding":{"x":{"field":"x","type":"quantitative","axis":null},"y":{"field":"top","type":"quantitative","axis":null},"y2":{"field":"bot"},"detail":{"field":"id"},"fill":{"field":"level","type":"ordinal","legend":null,"scale":{"domain":[290,300,310,330],"range":["#55ff00","#88ff00","#b3ff00","#ffee00"]}}}},
{"data":{"name":"diamond"},"mark":{"type":"line","stroke":"#050505","strokeWidth":3,"clip":true},
"encoding":{"x":{"field":"x","type":"quantitative","axis":null},"y":{"field":"y","type":"quantitative","axis":null},"order":{"field":"step"}}},
{"data":{"name":"labels"},"mark":{"type":"text","fontSize":24,"color":"#111","baseline":"middle","align":"center"},
"encoding":{"x":{"field":"x","type":"quantitative","axis":null},"y":{"field":"y","type":"quantitative","axis":null},"text":{"field":"text"},"angle":{"field":"rot","type":"quantitative","scale":null}}},
{"data":{"name":"wells"},"mark":{"type":"circle","color":"#000","opacity":1,"size":270},
"encoding":{"x":{"field":"x","type":"quantitative","title":null,"axis":{"orient":"top","values":[140000,145000,150000,155000,160000,165000,170000,175000,180000],"labels":false,"tickSize":13,"tickColor":"#999","domainColor":"#999","grid":false}},
"y":{"field":"y","type":"quantitative","title":null,"axis":{"orient":"right","values":[105000,110000,115000,120000,125000,130000],"labels":false,"tickSize":12,"tickColor":"#999","domainColor":"#999","grid":false}}}}
]},
{"width":43,"height":693,
"data":{"name":"bands"},
"mark":{"type":"rect","stroke":"#333","strokeWidth":0.6,"strokeOpacity":0.8},
"encoding":{
"x":{"value":0},"x2":{"value":43},
"y":{"field":"level","type":"quantitative","title":null,"scale":{"domain":[150,450],"range":[700,-4],"nice":false,"zero":false},"axis":{"orient":"right","values":[150,170,190,210,230,250,270,290,310,330,350,370,390,410,430],"ticks":false,"domain":false,"grid":false,"labelFontSize":23,"labelColor":"#333","labelPadding":4,"labelFlush":false}},
"y2":{"field":"hi"},
"fill":{"field":"level","type":"ordinal","legend":null,"scale":{"domain":[150,160,170,180,190,200,210,220,230,240,250,260,270,280,290,300,310,320,330,340,350,360,370,380,390,400,410,420,430,440],"range":["#9966ff","#8855ff","#5c3cff","#4422ff","#2a11ff","#1111ff","#0000e6","#0033bb","#006699","#008a70","#00b050","#00e61a","#11ff00","#44ff00","#55ff00","#88ff00","#b3ff00","#e6ff00","#ffee00","#ffcc00","#ffb300","#ff9900","#ff8000","#ff6a00","#f86000","#ff4a00","#ff3300","#ff2200","#ff1100","#ff0000"]}}
}}
],
"resolve":{"scale":{"color":"independent","fill":"independent"}}
}
